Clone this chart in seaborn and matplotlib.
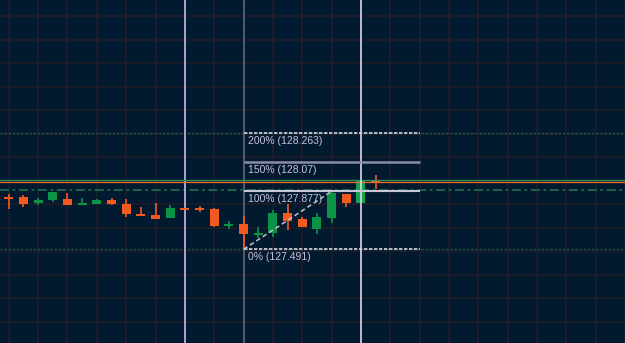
import numpy as np
import pandas as pd
import matplotlib
matplotlib.use("Agg")
import matplotlib.pyplot as plt
import seaborn as sns

# candle data
opens = [127.833, 127.839, 127.801, 127.819, 127.824, 127.788, 127.794, 127.819,
         127.792, 127.726, 127.719, 127.701, 127.761, 127.764, 127.759, 127.648,
         127.661, 127.586, 127.597, 127.731, 127.691, 127.628, 127.697, 127.859,
         127.797, 127.943]
highs = [127.859, 127.852, 127.830, 127.870, 127.864, 127.830, 127.826, 127.830,
         127.826, 127.770, 127.797, 127.786, 127.762, 127.779, 127.768, 127.679,
         127.715, 127.641, 127.752, 127.790, 127.708, 127.731, 127.877, 127.859,
         127.952, 127.985]
lows = [127.759, 127.774, 127.786, 127.808, 127.786, 127.788, 127.792, 127.786,
        127.708, 127.711, 127.695, 127.701, 127.756, 127.741, 127.639, 127.626,
        127.491, 127.568, 127.573, 127.619, 127.637, 127.593, 127.664, 127.770,
        127.797, 127.892]
closes = [127.831, 127.792, 127.819, 127.870, 127.788, 127.799, 127.819, 127.794,
          127.724, 127.713, 127.695, 127.764, 127.757, 127.755, 127.648, 127.657,
          127.593, 127.597, 127.731, 127.679, 127.637, 127.708, 127.864, 127.801,
          127.952, 127.939]

# fibonacci extension levels
fib_pcts = ["200%", "150%", "100%", "0%"]
fib_prices = [128.263, 128.07, 127.877, 127.491]
fib_start, fib_end = 16, 28
trend_start = (16, 127.491)
trend_end = (22, 127.877)

# other horizontal price lines
ask_price = 127.955
bid_price = 127.942
dashdot_price = 127.888

# vertical marker lines (bar index)
vline_idx = [12, 16, 24]

df = pd.DataFrame({"open": opens, "high": highs, "low": lows, "close": closes})
df["idx"] = np.arange(len(df))
df["up"] = df["close"] >= df["open"]

bg = "#021a30"
sns.set_style("dark", {"axes.facecolor": bg, "figure.facecolor": bg})
plt.rcParams["font.family"] = ["Liberation Sans", "DejaVu Sans"]

fig = plt.figure(figsize=(6.25, 3.43), dpi=100)
ax = fig.add_axes([0, 0, 1, 1])
ax.set_facecolor(bg)

# grid
for gx in np.arange(0, 44, 2):
    ax.axvline(gx, color="#221d28", lw=1.1, zorder=0)
for gy in np.arange(127.009, 129.2, 0.1564):
    ax.axhline(gy, color="#221d28", lw=1.1, zorder=0)

green = "#0c9446"
orange = "#f25a22"

# wicks and bodies
for _, r in df.iterrows():
    c = green if r["up"] else orange
    if r["idx"] == 24:
        c = "#13a452"
    ax.vlines(r["idx"], r["low"], r["high"], color=c, lw=1.2, zorder=3)
    lo = min(r["open"], r["close"])
    h = abs(r["close"] - r["open"])
    if h < 0.012:
        lo = (r["open"] + r["close"]) / 2 - 0.006
        h = 0.012
    ax.bar(r["idx"], h, bottom=lo, width=0.62, color=c, lw=0, zorder=3)

# full-width dotted levels
for p in [fib_prices[0], fib_prices[3]]:
    ax.axhline(p, color="#1d5b46", lw=1, ls=(0, (1.5, 1.5)), zorder=2)
ax.axhline(dashdot_price, color="#1f6a4a", lw=1.3, ls=(0, (5, 2, 1.5, 2)), zorder=2)
ax.axhline(ask_price, color="#1c9a5a", lw=0.9, zorder=4)
ax.axhline(bid_price, color="#f26a2a", lw=0.9, zorder=4)

# vertical lines
ax.axvline(vline_idx[0], color="#b9aede", lw=1.3, zorder=2)
ax.axvline(vline_idx[1], color="#5c606c", lw=1.3, zorder=2)
ax.axvline(vline_idx[2], color="#ded6f0", lw=1.2, zorder=5)

# fib lines and labels
fib_styles = [("#d8d4e4", (0, (2, 1)), 1.2), ("#8c8ca4", "-", 1.8),
              ("#c8c6d8", "-", 1.5), ("#d8d4e4", (0, (2, 1)), 1.2)]
for pct, p, (col, ls, lw) in zip(fib_pcts, fib_prices, fib_styles):
    ax.hlines(p, fib_start, fib_end, color=col, ls=ls, lw=lw, zorder=6)
    ax.text(fib_start + 0.3, p - 0.053, f"{pct} ({p:g})", color="#c8c0dc",
            fontsize=7.5, va="center", ha="left", zorder=7)

ax.plot([trend_start[0], trend_end[0]], [trend_start[1], trend_end[1]],
        color="#c4c4cc", lw=1.1, ls=(0, (3, 2)), zorder=6)

ax.set_xlim(-0.6, 42.0)
ax.set_ylim(126.868, 129.15)
ax.set_xticks([])
ax.set_yticks([])
for s in ax.spines.values():
    s.set_visible(False)

fig.savefig("out.png", dpi=100, facecolor=bg)
